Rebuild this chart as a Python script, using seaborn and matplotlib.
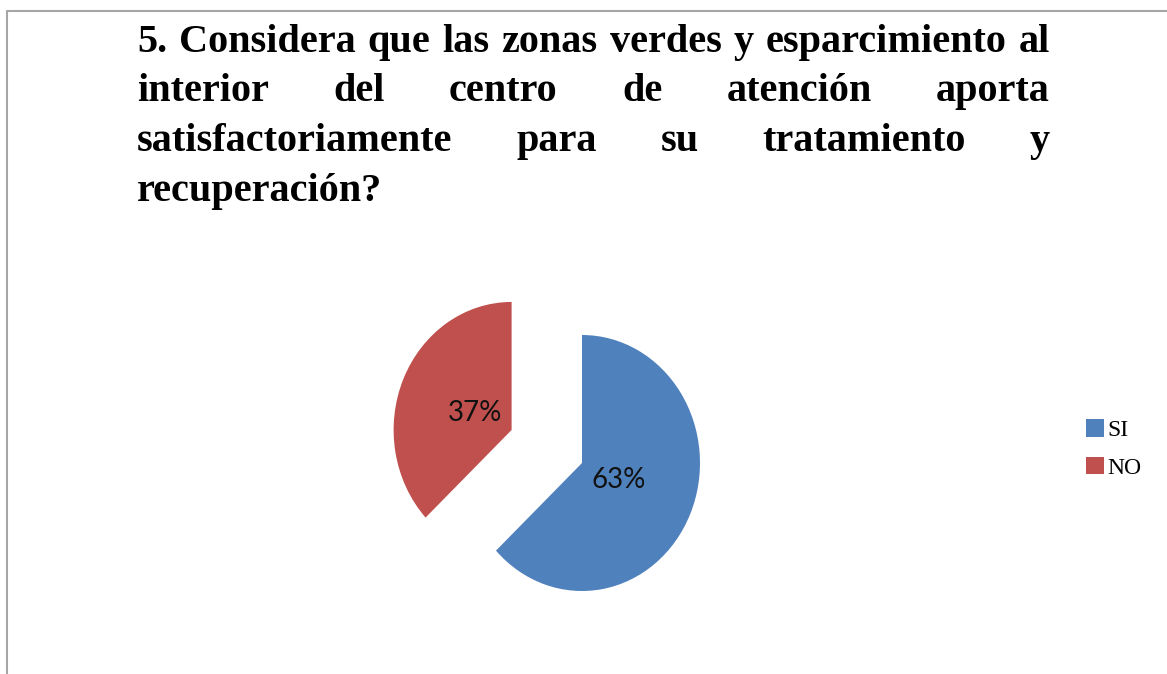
import matplotlib
matplotlib.use("Agg")
import matplotlib.pyplot as plt
import seaborn as sns
from matplotlib.lines import Line2D

# Data
labels = ["SI", "NO"]
values = [63, 37]
colors = ["#4F81BD", "#C0504D"]
explode = [0, 0.65]

title_lines = [
    "5. Considera que las zonas verdes y esparcimiento al",
    "interior del centro de atención aporta",
    "satisfactoriamente para su tratamiento y",
    "recuperación?",
]

sns.set_style("white")
plt.rcParams["font.family"] = ["Liberation Serif", "DejaVu Serif"]
plt.rcParams["text.color"] = "black"

W, H = 1167, 674
fig = plt.figure(figsize=(W / 100, H / 100), dpi=100)
renderer = fig.canvas.get_renderer()

# Pie axes: x unit = 118 px, y unit = 128 px, pie centre at (582, 463)
cx, cy, rx, ry = 582, 463, 118, 128
left_px, right_px, top_px, bot_px = 360, 800, 270, 630
ax = fig.add_axes([left_px / W, (H - bot_px) / H,
                   (right_px - left_px) / W, (bot_px - top_px) / H])
wedges, texts, autotexts = ax.pie(
    values, colors=colors, explode=explode, startangle=90, counterclock=False,
    autopct="%1.0f%%", pctdistance=0.34,
    wedgeprops=dict(linewidth=0),
    textprops=dict(fontsize=20, family=["Lato", "DejaVu Sans"], color="#111111"),
)
ax.set_aspect("auto")
ax.set_xlim(-(cx - left_px) / rx, (right_px - cx) / rx)
ax.set_ylim(-(bot_px - cy) / ry, (cy - top_px) / ry)
ax.axis("off")

leg = fig.legend(wedges, labels, loc="center left",
                 bbox_to_anchor=(1086 / W, 1 - 449 / H),
                 frameon=False, fontsize=17, handlelength=0.75, handleheight=0.75,
                 handletextpad=0.15, labelspacing=0.65, borderpad=0,
                 borderaxespad=0)

# Title, justified like the original text box
x0, x1 = 137, 1050
baselines = [52, 101, 151, 201]
fsize = 29
probe = fig.text(0, 0, title_lines[0], fontsize=fsize, fontweight="bold")
natural = probe.get_window_extent(renderer).width
probe.remove()
if natural > (x1 - x0):
    fsize = fsize * (x1 - x0) / natural

for i, line in enumerate(title_lines):
    y = 1 - baselines[i] / H
    words = line.split(" ")
    if i == len(title_lines) - 1:
        fig.text(x0 / W, y, line, fontsize=fsize, fontweight="bold",
                 va="baseline", ha="left")
        continue
    objs = [fig.text(0, y, w, fontsize=fsize, fontweight="bold",
                     va="baseline", ha="left") for w in words]
    widths = [o.get_window_extent(renderer).width for o in objs]
    gap = (x1 - x0 - sum(widths)) / (len(words) - 1)
    pos = x0
    for o, w in zip(objs, widths):
        o.set_x(pos / W)
        pos += w + gap

# Frame lines (left and top)
fig.add_artist(Line2D([7 / W, 7 / W], [0, 1 - 11 / H], transform=fig.transFigure,
                      color="#a6a6a6", lw=1.5))
fig.add_artist(Line2D([7 / W, 1], [1 - 11 / H, 1 - 11 / H], transform=fig.transFigure,
                      color="#a6a6a6", lw=1.5))

fig.savefig("out.png", dpi=100)
